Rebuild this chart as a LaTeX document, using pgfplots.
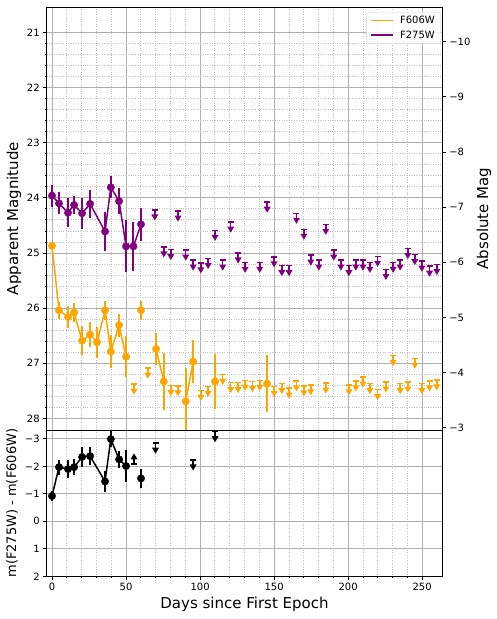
\documentclass[border=0pt]{standalone}
\usepackage{pgfplots}
\pgfplotsset{compat=1.18}
\usepackage{fontspec}
\setmainfont{DejaVu Sans}
\definecolor{mplorange}{RGB}{255,165,0}
\definecolor{mplpurple}{RGB}{128,0,128}
\definecolor{gridgray}{HTML}{B0B0B0}

% upper-limit marker: cap at the value, arrow pointing down the page
\pgfdeclareplotmark{ulim}{%
  \pgfpathmoveto{\pgfqpoint{-3pt}{0pt}}\pgfpathlineto{\pgfqpoint{3pt}{0pt}}%
  \pgfpathmoveto{\pgfqpoint{0pt}{0pt}}\pgfpathlineto{\pgfqpoint{0pt}{-5pt}}%
  \pgfusepathqstroke
  \pgfpathmoveto{\pgfqpoint{-3.5pt}{-4.5pt}}\pgfpathlineto{\pgfqpoint{3.5pt}{-4.5pt}}%
  \pgfpathlineto{\pgfqpoint{0pt}{-10.5pt}}\pgfpathclose
  \pgfusepathqfill
}
% same, arrow pointing up the page
\pgfdeclareplotmark{llim}{%
  \pgfpathmoveto{\pgfqpoint{-3pt}{0pt}}\pgfpathlineto{\pgfqpoint{3pt}{0pt}}%
  \pgfpathmoveto{\pgfqpoint{0pt}{0pt}}\pgfpathlineto{\pgfqpoint{0pt}{5pt}}%
  \pgfusepathqstroke
  \pgfpathmoveto{\pgfqpoint{-3.5pt}{4.5pt}}\pgfpathlineto{\pgfqpoint{3.5pt}{4.5pt}}%
  \pgfpathlineto{\pgfqpoint{0pt}{10.5pt}}\pgfpathclose
  \pgfusepathqfill
}

\pgfplotsset{
  panel/.style={
    width=395.6pt, scale only axis,
    xmin=-3.6, xmax=263.6, y dir=reverse,
    grid=both,
    major grid style={gridgray, line width=0.8pt},
    minor grid style={gridgray!80, dotted, line width=0.8pt},
    tick align=outside, major tick length=3.5pt, minor tick length=2pt,
    tick style={black, line width=0.8pt},
    axis line style={line width=0.8pt},
    ticklabel style={font=\fontsize{10}{12}\selectfont},
    xtick={0,50,...,250}, minor x tick num=4,
    xtick pos=bottom, ytick pos=left,
  },
  det/.style={color=#1, line width=1.5pt, mark=*, mark size=3.7pt,
    mark options={solid, fill=#1, draw=#1, line width=0.4pt},
    error bars/y dir=both, error bars/y explicit, error bars/error mark=none,
    error bars/error bar style={line width=2pt, #1}},
  lim/.style 2 args={only marks, mark=#2, color=#1,
    mark options={solid, draw=#1, fill=#1, line width=1.5pt}},
}

\begin{document}
\begin{tikzpicture}
\useasboundingbox (-46.7pt,-42.7pt) rectangle (449.3pt,576.3pt);

% ---------- top panel: apparent magnitude ----------
\begin{axis}[panel,
  at={(0pt,146.3pt)}, anchor=south west, height=423pt,
  ymin=20.54, ymax=28.21,
  ytick={21,...,28}, yticklabels={21,22,23,24,25,26,27,28},
  minor y tick num=4,
  xticklabels={}, x tick style={draw=none},
  ylabel={Apparent Magnitude},
  ylabel style={at={(axis description cs:-0.0827,0.5)}, anchor=center,
    font=\fontsize{15}{18}\selectfont},
  legend style={at={(axis description cs:0.9967,0.988)}, anchor=north east,
    draw=gray!35, rounded corners=2pt, fill=white, fill opacity=0.8,
    text opacity=1, font=\fontsize{10}{12}\selectfont,
    row sep=1.5pt, inner xsep=4pt, inner ysep=2pt},
  legend cell align=left,
  legend image code/.code={\draw[#1] (0pt,0pt) -- (22pt,0pt); \path (26pt,0pt);},
]
\addlegendimage{mplorange, line width=1.5pt}
\addlegendentry{F606W}
\addlegendimage{mplpurple, line width=1.5pt}
\addlegendentry{F275W}

% F606W detections
\addplot[forget plot, det=mplorange] coordinates {
  (0.0,24.87) +- (0,0.04) (4.7,26.04) +- (0,0.16) (10.8,26.16) +- (0,0.20)
  (14.9,26.08) +- (0,0.17) (20.3,26.59) +- (0,0.26) (25.7,26.48) +- (0,0.23)
  (30.4,26.62) +- (0,0.28) (35.8,26.04) +- (0,0.17) (39.7,26.79) +- (0,0.30)
  (45.3,26.31) +- (0,0.21) (50.0,26.88) +- (0,0.37) };
\addplot[forget plot, det=mplorange] coordinates { (60.1,26.04) +- (0,0.17) };
\addplot[forget plot, det=mplorange] coordinates {
  (70.3,26.74) +- (0,0.29) (75.5,27.33) +- (0,0.52) };
\addplot[forget plot, det=mplorange] coordinates {
  (90.3,27.69) +- (0,0.60) (95.3,26.97) +- (0,0.39) };
\addplot[forget plot, det=mplorange] coordinates { (110.1,27.33) +- (0,0.50) };
\addplot[forget plot, det=mplorange] coordinates { (145.3,27.37) +- (0,0.52) };
% F606W upper limits
\addplot[forget plot, lim={mplorange}{ulim}] coordinates {
  (55.4,27.38) (64.7,27.09) (80.2,27.40) (85.1,27.41) (100.5,27.49)
  (105.4,27.42) (115.3,27.20) (120.7,27.35) (125.7,27.35) (130.4,27.31)
  (135.4,27.33) (140.3,27.31) (150.0,27.42) (155.2,27.37) (160.1,27.45)
  (165.1,27.32) (170.1,27.41) (174.8,27.39) (184.9,27.36) (200.5,27.39)
  (205.2,27.32) (210.0,27.25) (214.7,27.37) (219.9,27.48) (225.5,27.34)
  (230.4,26.86) (235.1,27.37) (240.3,27.34) (245.0,26.91) (249.8,27.37)
  (255.0,27.32) (259.9,27.30) };

% F275W detections
\addplot[forget plot, det=mplpurple] coordinates {
  (0.0,23.96) +- (0,0.20) (4.7,24.10) +- (0,0.20) (10.8,24.27) +- (0,0.26)
  (14.9,24.13) +- (0,0.17) (20.3,24.28) +- (0,0.28) (25.7,24.11) +- (0,0.25)
  (35.8,24.61) +- (0,0.35) (39.7,23.81) +- (0,0.20) (45.3,24.06) +- (0,0.23)
  (50.0,24.88) +- (0,0.47) (55.0,24.88) +- (0,0.44) (60.1,24.48) +- (0,0.30) };
% F275W upper limits
\addplot[forget plot, lim={mplpurple}{ulim}] coordinates {
  (69.4,24.22) (75.5,24.89) (80.2,24.94) (85.1,24.24) (90.3,24.95)
  (95.3,25.13) (100.5,25.18) (105.4,25.10) (110.1,24.59) (115.3,25.13)
  (120.7,24.44) (125.7,25.00) (130.4,25.17) (140.3,25.17) (145.3,24.08)
  (150.0,25.07) (155.2,25.23) (160.1,25.23) (165.1,24.28) (170.1,24.57)
  (174.8,25.04) (180.2,25.13) (184.9,24.48) (190.3,24.95) (195.1,25.13)
  (200.5,25.23) (205.2,25.13) (210.0,25.13) (214.7,25.17) (219.9,25.06)
  (225.5,25.30) (230.4,25.17) (235.1,25.13) (240.3,24.92) (245.0,25.03)
  (249.8,25.15) (255.0,25.24) (259.9,25.21) };
\end{axis}

% ---------- right axis: absolute magnitude ----------
\begin{axis}[
  at={(0pt,146.3pt)}, anchor=south west,
  width=395.6pt, height=423pt, scale only axis,
  xmin=-3.6, xmax=263.6, axis x line=none,
  axis y line*=right, y dir=reverse,
  ymin=-10.63, ymax=-2.96,
  ytick={-10,...,-3}, yticklabels={−10,−9,−8,−7,−6,−5,−4,−3},
  tick align=outside, major tick length=3.5pt,
  tick style={black, line width=0.8pt},
  axis line style={line width=0.8pt},
  ticklabel style={font=\fontsize{10}{12}\selectfont},
  ylabel={Absolute Mag},
  ylabel style={at={(axis description cs:1.1054,0.5)}, anchor=center,
    font=\fontsize{15}{18}\selectfont},
]
\addplot[draw=none] coordinates {(0,-5)};
\end{axis}

% ---------- bottom panel: colour ----------
\begin{axis}[panel,
  at={(0pt,0pt)}, anchor=south west, height=146.3pt,
  ymin=-3.32, ymax=2,
  ytick={-3,...,2}, yticklabels={−3,−2,−1,0,1,2},
  minor y tick num=0,
  xticklabels={0,50,100,150,200,250},
  xlabel={Days since First Epoch},
  xlabel style={at={(axis description cs:0.5,-0.189)}, anchor=center,
    font=\fontsize{15}{18}\selectfont},
  ylabel={m(F275W) - m(F606W)},
  ylabel style={at={(axis description cs:-0.0877,0.5)}, anchor=center,
    font=\fontsize{13}{16}\selectfont},
]
\addplot[det=black] coordinates {
  (0.0,-0.92) +- (0,0.19) (4.7,-1.97) +- (0,0.27) (10.8,-1.90) +- (0,0.32)
  (14.9,-1.97) +- (0,0.28) (20.3,-2.34) +- (0,0.37) (25.7,-2.37) +- (0,0.34)
  (35.8,-1.45) +- (0,0.37) (39.7,-2.99) +- (0,0.30) (45.3,-2.25) +- (0,0.32)
  (50.0,-2.01) +- (0,0.58) };
\addplot[det=black] coordinates { (60.1,-1.56) +- (0,0.35) };
\addplot[lim={black}{llim}] coordinates { (55.4,-2.09) };
\addplot[lim={black}{ulim}] coordinates { (69.9,-2.84) (95.3,-2.23) (110.1,-3.26) };
\end{axis}
\end{tikzpicture}
\end{document}
